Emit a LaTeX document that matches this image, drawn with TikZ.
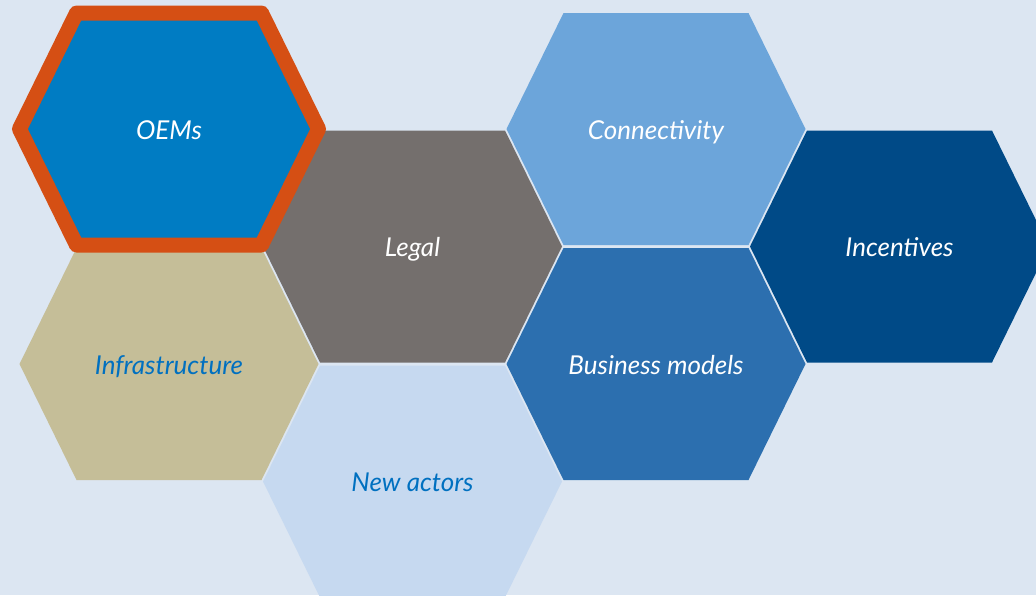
\documentclass[tikz,border=0pt]{standalone}
\usepackage{fontspec}
\setmainfont{Lato}
\definecolor{bg}{HTML}{DCE6F2}
\definecolor{oemblue}{HTML}{007CC3}
\definecolor{oemorange}{HTML}{D54F14}
\definecolor{legalgray}{HTML}{746F6D}
\definecolor{connblue}{HTML}{6CA5DA}
\definecolor{incblue}{HTML}{004A87}
\definecolor{infratan}{HTML}{C5BE98}
\definecolor{newblue}{HTML}{C6D9F0}
\definecolor{busblue}{HTML}{2C6FAF}
\definecolor{textblue}{HTML}{0070C0}
\tikzset{
  hexa/.pic={\path[pic actions] (-149.5,0) -- (-92.5,-116) -- (92.5,-116) -- (149.5,0) -- (92.5,116) -- (-92.5,116) -- cycle;},
  hexlabel/.style={font=\fontsize{26}{30}\selectfont\itshape, inner sep=0pt, anchor=base},
  whitetext/.style={hexlabel, text=white},
  bluetext/.style={hexlabel, text=textblue},
}
\begin{document}
\begin{tikzpicture}[x=1pt,y=-1pt]
\useasboundingbox (0,0) rectangle (1036,595);
\fill[bg] (0,0) rectangle (1036,595);
\begin{scope}
\clip (0,0) rectangle (1036,595);
\pic[fill=connblue] at (656,129) {hexa};
\pic[fill=busblue] at (656,364) {hexa};
\pic[fill=legalgray] at (412.5,246.5) {hexa};
\pic[fill=newblue] at (412.5,481.5) {hexa};
\pic[fill=incblue] at (899.5,246.5) {hexa};
\pic[fill=infratan] at (169,364) {hexa};
\pic[fill=oemblue, draw=oemorange, line width=15pt, line join=round] at (169,129) {hexa};
\end{scope}
\node[whitetext] (oems) at (169,139) {OEMs};
\node[whitetext] (legal) at (412.5,256.5) {Legal};
\node[whitetext] (conn) at (656,139) {Connectivity};
\node[whitetext] (inc) at (899.5,256.5) {Incentives};
\node[bluetext] (infra) at (169,374) {Infrastructure};
\node[whitetext] (bus) at (656,374) {Business models};
\node[bluetext] (newact) at (412.5,491.5) {New actors};
\end{tikzpicture}
\end{document}
